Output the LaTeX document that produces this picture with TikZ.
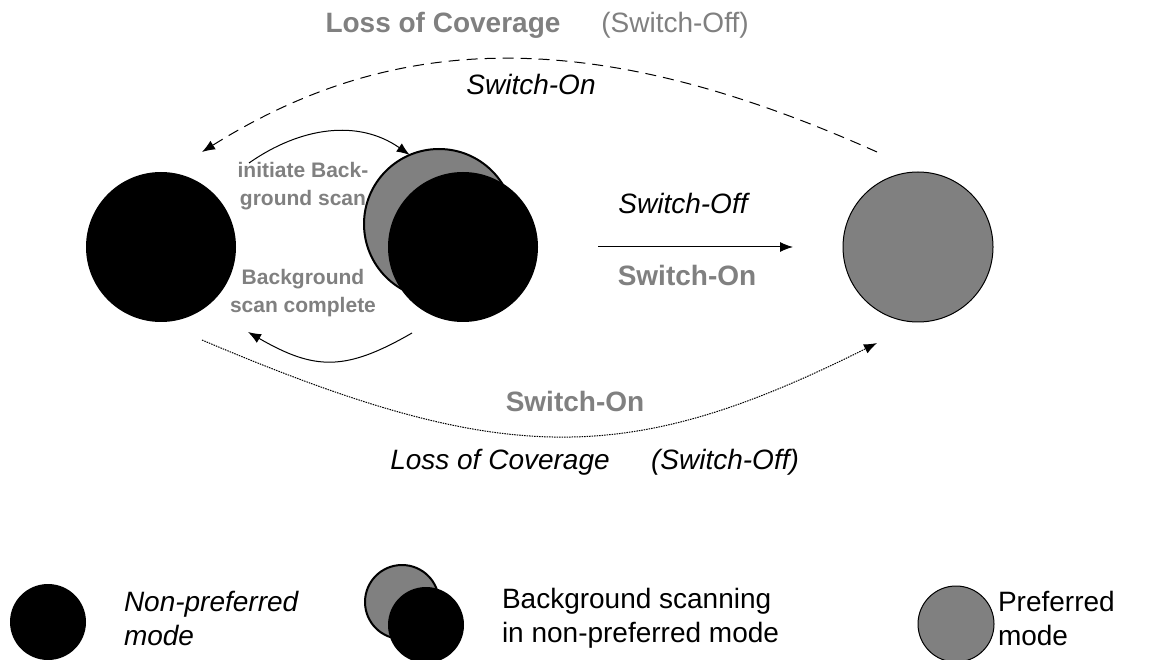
\documentclass[tikz,border=0pt]{standalone}
\usepackage{fontspec}
\setmainfont{Liberation Sans}
\usetikzlibrary{arrows.meta}

\begin{document}
\begin{tikzpicture}[x=1pt, y=1pt,
    >={Latex[length=13pt,width=10pt]},
    every node/.style={inner sep=0pt, outer sep=0pt},
    blackdisc/.style={circle, fill=black, minimum size=150pt},
    greydisc/.style={circle, draw=black, fill=gray, line width=1pt, minimum size=150pt},
    scandisc/.style={greydisc, line width=2pt},
    textlbl/.style={font=\fontsize{28}{34}\selectfont},
    itlbl/.style={font=\fontsize{28}{34}\selectfont\itshape},
    greybold/.style={font=\fontsize{28}{34}\selectfont\bfseries, text=gray},
    greyplain/.style={font=\fontsize{28}{34}\selectfont, text=gray},
    sidenote/.style={font=\fontsize{21}{28}\selectfont\bfseries, text=gray, align=center},
    conn/.style={line width=1pt},
    dashconn/.style={conn, dash pattern=on 11pt off 7pt},
    dotconn/.style={conn, dash pattern=on 1.5pt off 1pt}]
        % Fix the frame of the picture
        \useasboundingbox (0,0) rectangle (1155,659);

        % Draw the three states
        \node[blackdisc] (npm) at (161,412) {};
        \node[scandisc] (scanG) at (439,435) {};
        \node[blackdisc] (scanB) at (463,412) {};
        \node[greydisc] (pref) at (918,412) {};

        % Free ends of the curved arrows
        \coordinate (dashR) at (877,507);
        \coordinate (dashL) at (202,507);
        \coordinate (iniL) at (249,496);
        \coordinate (cmpR) at (412,326);
        \coordinate (cmpL) at (248,327);
        \coordinate (dotL) at (202,319);
        \coordinate (dotR) at (877,316);

        % Draw the transitions
        \draw[dashconn, ->] (dashR) .. controls (600,631) and (400,631) .. (dashL);
        \draw[conn, ->] (iniL) to[out=35, in=145] (scanG.113);
        \draw[conn, ->] (cmpR) to[out=210, in=-30, looseness=1.2] (cmpL);
        \draw[conn, ->, shorten <=60pt, shorten >=50pt] (scanB.east) -- (pref.west);
        \draw[dotconn, ->] (dotL) .. controls (503,191) and (627,191) .. (dotR);

        % Label the transitions
        \node[greybold] (lossT) at (443,634) {Loss of Coverage};
        \node[greyplain] (offT) at (675,634) {(Switch-Off)};
        \node[itlbl] (onT) at (531,575) {Switch-On};
        \node[sidenote] (initT) at (303,473) {initiate Back-\\ground scan};
        \node[sidenote] (cmpT) at (303,366) {Background\\scan complete};
        \node[itlbl] (offM) at (683,456) {Switch-Off};
        \node[greybold] (onM) at (687,384) {Switch-On};
        \node[greybold] (onB) at (575,258) {Switch-On};
        \node[itlbl] (lossB) at (500,197) {Loss of Coverage};
        \node[itlbl] (offB) at (725,197) {(Switch-Off)};

        % Draw the legend
        \node[blackdisc, minimum size=76pt] (legNp) at (48,37) {};
        \node[scandisc, minimum size=74pt] (legG) at (402,57) {};
        \node[blackdisc, minimum size=76pt] (legB) at (426,34) {};
        \node[greydisc, minimum size=76pt] (legP) at (956,35) {};
        \node[itlbl, align=left, anchor=west] (legNpT) at (124,41) {Non-preferred\\mode};
        \node[textlbl, align=left, anchor=west] (legBT) at (502,41) {Background scanning\\in non-preferred mode};
        \node[textlbl, align=left, anchor=west] (legPT) at (998,41) {Preferred\\mode};
    \end{tikzpicture}
\end{document}
